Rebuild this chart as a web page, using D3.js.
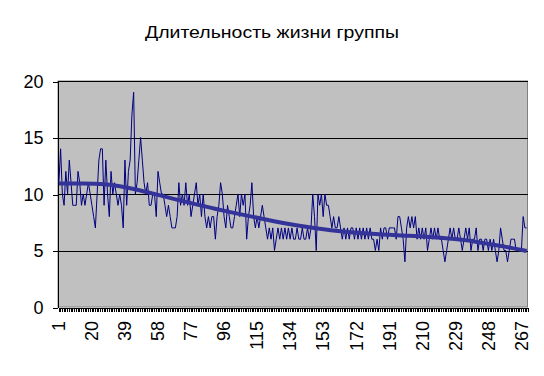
<!DOCTYPE html>
<html>
<head>
<meta charset="utf-8">
<script src="https://cdn.jsdelivr.net/npm/d3@7"></script>
<style>
body { margin: 0; background: #fff; }
svg { display: block; }
text { font-family: Arial, 'Liberation Sans', sans-serif; }
</style>
</head>
<body>
<div id="chart"></div>
<script>
var title = 'Длительность жизни группы';

// lifetime per group, categories 1..270
var values = [
    11, 14, 10, 9, 12, 10, 13, 11, 9, 9,
    9, 12, 11, 9, 10, 9, 10, 11, 10, 9,
    8, 7, 10, 13, 14, 14, 9, 13, 10, 8,
    12, 10, 11, 10, 9, 10, 9, 7, 13, 9,
    12, 13, 17, 19, 10, 11, 13, 15, 13, 11,
    10, 11, 9, 9, 10, 10, 8, 12, 11, 10,
    10, 9, 8, 9, 8, 7, 7, 7, 8, 11,
    9, 10, 9, 11, 9, 10, 8, 9, 10, 11,
    9, 10, 8, 10, 8, 7, 8, 7, 8, 8,
    6, 8, 9, 11, 10, 8, 7, 9, 8, 7,
    7, 8, 9, 10, 8, 10, 9, 10, 6, 8,
    9, 11, 8, 7, 8, 7, 8, 9, 8, 7,
    6, 7, 6, 7, 5, 6, 7, 6, 7, 6,
    7, 6, 7, 6, 7, 6, 6, 7, 6, 6,
    7, 6, 6, 7, 6, 7, 10, 8, 5, 10,
    9, 10, 8, 10, 9, 9, 8, 7, 8, 7,
    7, 8, 7, 6, 7, 6, 7, 6, 7, 7,
    6, 7, 6, 7, 6, 7, 6, 7, 6, 7,
    6, 6, 5, 6, 5, 7, 6, 7, 7, 6,
    7, 7, 7, 7, 6, 8, 8, 7, 6, 4,
    7, 8, 7, 8, 7, 8, 6, 7, 6, 7,
    6, 7, 5, 6, 7, 6, 7, 6, 7, 6,
    6, 5, 4, 5, 6, 7, 6, 7, 6, 6,
    7, 6, 5, 6, 7, 6, 7, 5, 6, 6,
    7, 5, 6, 6, 5, 6, 6, 5, 6, 5,
    6, 5, 4, 5, 7, 6, 5, 5, 4, 5,
    6, 6, 6, 5, 5, 5, 5, 8, 7, 7
];

// trend line (category, value)
var trendCats = [1, 15, 28, 36, 44, 52, 60, 70, 80, 90, 100, 112, 124, 136, 157, 181, 202, 226, 235, 246, 258, 270];
var trendVals = [10.92, 10.94, 10.88, 10.7, 10.45, 10.15, 9.85, 9.45, 9.08, 8.72, 8.38, 8.0, 7.6, 7.25, 6.76, 6.45, 6.31, 6.08, 5.93, 5.63, 5.34, 4.95];

var xTickLabels = [1, 20, 39, 58, 77, 96, 115, 134, 153, 172, 191, 210, 229, 248, 267];
var yTicks = [0, 5, 10, 15, 20];

var width = 544, height = 376;
var margins = {left: 58, top: 81, right: 16.5, bottom: 69};

var vis = d3.select('#chart').append('svg')
    .attr('width', width)
    .attr('height', height);

var n = values.length;
var x = d3.scaleLinear()
    .domain([0.5, n + 0.5])
    .range([margins.left, width - margins.right]);
var y = d3.scaleLinear()
    .domain([0, 20])
    .range([height - margins.bottom, margins.top]);

// plot area
vis.append('rect')
    .attr('x', x(0.5))
    .attr('y', y(20))
    .attr('width', x(n + 0.5) - x(0.5))
    .attr('height', y(0) - y(20))
    .attr('fill', '#c0c0c0')
    .attr('stroke', '#808080')
    .attr('stroke-width', 1);

// gridlines
vis.append('g').selectAll('line')
    .data(yTicks.slice(1))
    .enter().append('line')
    .attr('x1', x(0.5))
    .attr('x2', x(n + 0.5))
    .attr('y1', function(d) { return Math.round(y(d)) + 0.5; })
    .attr('y2', function(d) { return Math.round(y(d)) + 0.5; })
    .attr('stroke', '#000')
    .attr('shape-rendering', 'crispEdges');

// y axis
var yAxis = vis.append('g')
    .attr('transform', 'translate(' + (x(0.5) - 0.5) + ',0.5)')
    .call(d3.axisLeft(y).tickValues(yTicks).tickSize(5).tickPadding(9).tickSizeOuter(0));
yAxis.selectAll('text').attr('font-size', 18).attr('fill', '#000').attr('font-family', null);
yAxis.selectAll('line, path').attr('stroke', '#000').attr('shape-rendering', 'crispEdges');

// x axis: tick marks between categories
var bounds = d3.range(0, n + 1).map(function(k) { return k + 0.5; });
var xAxis = vis.append('g')
    .attr('transform', 'translate(0.5,' + (y(0) + 0.5) + ')')
    .call(d3.axisBottom(x).tickValues(bounds).tickFormat('').tickSize(4).tickSizeOuter(0));
xAxis.selectAll('line, path').attr('stroke', '#000').attr('shape-rendering', 'crispEdges');

// x labels, rotated
vis.append('g').selectAll('text')
    .data(xTickLabels)
    .enter().append('text')
    .attr('transform', function(d) { return 'translate(' + x(d) + ',' + (y(0) + 14) + ') rotate(-90)'; })
    .attr('dy', '0.35em')
    .attr('text-anchor', 'end')
    .attr('font-size', 18)
    .text(function(d) { return d; });

// data series
var line = d3.line()
    .x(function(d, i) { return x(i + 1); })
    .y(function(d) { return y(d); });

vis.append('path')
    .datum(values)
    .attr('d', line)
    .attr('fill', 'none')
    .attr('stroke', '#000080')
    .attr('stroke-width', 1);

// trend
var trendLine = d3.line()
    .curve(d3.curveBasis)
    .x(function(d, i) { return x(trendCats[i]); })
    .y(function(d) { return y(d); });

vis.append('path')
    .datum(trendVals)
    .attr('d', trendLine)
    .attr('fill', 'none')
    .attr('stroke', '#333399')
    .attr('stroke-width', 4);

// title
vis.append('text')
    .attr('x', 272)
    .attr('y', 38)
    .attr('text-anchor', 'middle')
    .attr('font-size', 17)
    .attr('textLength', 254)
    .attr('lengthAdjust', 'spacingAndGlyphs')
    .text(title);
</script>
</body>
</html>
